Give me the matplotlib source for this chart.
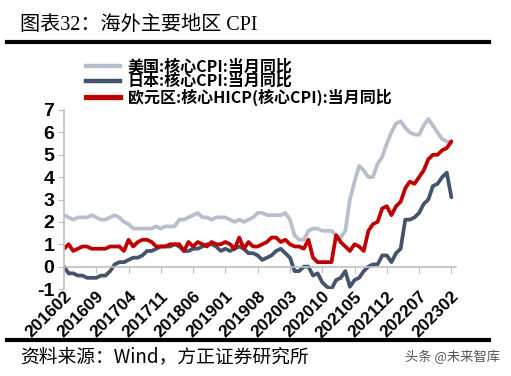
import pandas as pd
import matplotlib
matplotlib.use("Agg")
import matplotlib.pyplot as plt
from matplotlib.lines import Line2D

plt.rcParams['font.family'] = ['Liberation Sans', 'Noto Sans CJK SC']
plt.rcParams['axes.unicode_minus'] = False

# monthly, 201602 - 202302
months = pd.period_range('2016-02', '2023-02', freq='M').strftime('%Y%m').tolist()

us_core = [2.3, 2.2, 2.1, 2.2, 2.2, 2.2, 2.3, 2.2, 2.1, 2.1, 2.2,
           2.3, 2.2, 2.0, 1.9, 1.7, 1.7, 1.7, 1.7, 1.7, 1.8, 1.7, 1.8,
           1.8, 1.8, 2.1, 2.1, 2.2, 2.3, 2.4, 2.2, 2.2, 2.1, 2.2, 2.2,
           2.2, 2.1, 2.0, 2.1, 2.0, 2.1, 2.2, 2.4, 2.4, 2.3, 2.3, 2.3,
           2.3, 2.4, 2.1, 1.4, 1.2, 1.2, 1.6, 1.7, 1.7, 1.6, 1.6, 1.6,
           1.4, 1.3, 1.6, 3.0, 3.8, 4.5, 4.3, 4.0, 4.0, 4.6, 4.9, 5.5,
           6.0, 6.4, 6.5, 6.2, 6.0, 5.9, 5.9, 6.3, 6.6, 6.3, 6.0, 5.7,
           5.6, 5.5]

jp_core = [0.0, -0.3, -0.3, -0.4, -0.4, -0.5, -0.5, -0.5, -0.4, -0.4, -0.2,
           0.1, 0.2, 0.2, 0.3, 0.4, 0.4, 0.5, 0.7, 0.7, 0.8, 0.9, 0.9,
           0.9, 1.0, 0.9, 0.7, 0.7, 0.8, 0.8, 0.9, 1.0, 1.0, 0.9, 0.7,
           0.8, 0.7, 0.8, 0.9, 0.8, 0.6, 0.6, 0.5, 0.3, 0.4, 0.5, 0.7,
           0.8, 0.6, 0.4, -0.2, -0.2, 0.0, 0.0, -0.4, -0.3, -0.7, -0.9, -1.0,
           -0.6, -0.5, -0.2, -0.9, -0.6, -0.5, -0.2, 0.0, 0.1, 0.1, 0.5, 0.5,
           0.2, 0.6, 0.8, 2.1, 2.1, 2.2, 2.4, 2.8, 3.0, 3.6, 3.7, 4.0,
           4.2, 3.1]

eu_core = [0.8, 1.0, 0.7, 0.8, 0.9, 0.9, 0.8, 0.8, 0.8, 0.8, 0.9,
           0.9, 0.9, 0.7, 1.2, 0.9, 1.1, 1.2, 1.2, 1.1, 0.9, 0.9, 0.9,
           1.0, 1.0, 1.0, 0.7, 1.1, 0.9, 1.1, 1.0, 0.9, 1.1, 1.0, 1.0,
           1.1, 1.0, 0.8, 1.3, 0.8, 1.1, 0.9, 0.9, 1.0, 1.1, 1.3, 1.3,
           1.1, 1.2, 1.0, 0.9, 0.9, 0.8, 1.2, 0.4, 0.2, 0.2, 0.2, 0.2,
           1.4, 1.1, 0.9, 0.7, 1.0, 0.9, 0.7, 1.6, 1.9, 2.0, 2.6, 2.7,
           2.3, 2.7, 2.9, 3.5, 3.8, 3.7, 4.0, 4.3, 4.8, 5.0, 5.0, 5.2,
           5.3, 5.6]

labels = ['美国:核心CPI:当月同比', '日本:核心CPI:当月同比', '欧元区:核心HICP(核心CPI):当月同比']
colors = ['#b7bfcd', '#44546a', '#c00000']
series = [us_core, jp_core, eu_core]

W, H = 511, 376
fig = plt.figure(figsize=(W / 100, H / 100), dpi=100)
ax = fig.add_axes([64 / W, 87 / H, 392 / W, 179 / H])

x = list(range(len(months)))
for vals, c in zip(series, colors):
    ax.plot(x, vals, color=c, lw=2.7, solid_joinstyle='round', solid_capstyle='round')

# move the x axis to 0 first: set_position resets the ticks
ax.spines['bottom'].set_position(('data', 0))
for s in ['top', 'right']:
    ax.spines[s].set_visible(False)
for s in ['left', 'bottom']:
    ax.spines[s].set_color('#bfbfbf')
    ax.spines[s].set_linewidth(1.2)

ax.set_xlim(0, 85)
ax.set_ylim(-1, 7)
ax.set_yticks(range(-1, 8))
ticks = x[::7]
ax.set_xticks(ticks)
ax.set_xticklabels([months[i] for i in ticks], rotation=45, ha='right', va='top',
                   rotation_mode='anchor', fontsize=12.5, fontweight='bold')
ax.tick_params(axis='x', direction='out', length=4, color='#bfbfbf', pad=12)
ax.tick_params(axis='y', direction='out', length=4, color='#bfbfbf', pad=3)
for t in ax.get_yticklabels():
    t.set_fontsize(14)
    t.set_fontweight('bold')

# legend drawn at top
ys = [66, 81, 97]
for lab, c, yy in zip(labels, colors, ys):
    fy = 1 - yy / H
    fig.add_artist(Line2D([86 / W, 120 / W], [fy, fy], color=c, lw=3.2 if c != '#c00000' else 3.8))
    fig.text(128 / W, fy, lab, fontsize=11.5, fontweight='bold', va='center', ha='left',
             family=['Noto Sans CJK SC'])

# title and rules
fig.text(20 / W, 1 - 26 / H, '图表32：海外主要地区 CPI', fontsize=14.5, va='center', ha='left',
         family=['Liberation Serif', 'Noto Sans CJK SC'])
fig.add_artist(Line2D([7 / W, 489 / W], [1 - 42 / H] * 2, color='black', lw=3))
fig.add_artist(Line2D([7 / W, 489 / W], [1 - 340 / H] * 2, color='black', lw=3))
fig.text(20 / W, 1 - 357 / H, '资料来源：Wind，方正证券研究所', fontsize=13.5, va='center', ha='left',
         family=['Noto Sans CJK SC'])
fig.text(500 / W, 1 - 357 / H, '头条 @未来智库', fontsize=9.5, va='center', ha='right',
         color='#555555', family=['Noto Sans CJK SC'])

fig.savefig('out.png', dpi=100)
